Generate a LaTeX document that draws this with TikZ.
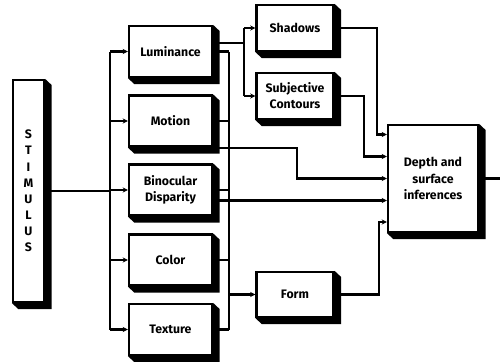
\documentclass[tikz,border=0pt]{standalone}
\usepackage{fontspec}
\setmainfont{Fira Sans}
\usetikzlibrary{arrows.meta}

\tikzset{
  blk/.style={draw, fill=white, line width=1.1mm, inner sep=0pt, align=center,
    font=\fontsize{17.5}{23}\selectfont\bfseries},
  conn/.style={line width=1.1mm},
  arr/.style={conn, -{Stealth[length=2.6mm,width=2.6mm]}},
}

\begin{document}
\begin{tikzpicture}[x=0.5mm, y=-0.5mm]
    \useasboundingbox (0,0) rectangle (500,361);

    % Stimulus column
    \node[blk, minimum width=15.5mm, minimum height=111mm] (stim) at (28.5,191) {S\\T\\I\\M\\U\\L\\U\\S};

    % First stage boxes
    \node[blk, minimum width=41.5mm, minimum height=25.5mm] (lum) at (170.5,51.5) {Luminance};
    \node[blk, minimum width=41.5mm, minimum height=25.5mm] (mot) at (170.5,121) {Motion};
    \node[blk, minimum width=41.5mm, minimum height=25.5mm] (bin) at (170.5,190) {Binocular\\Disparity};
    \node[blk, minimum width=41.5mm, minimum height=25.5mm] (col) at (170.5,260) {Color};
    \node[blk, minimum width=41.5mm, minimum height=25.5mm] (tex) at (170.5,329.5) {Texture};

    % Second stage boxes
    \node[blk, minimum width=38.5mm, minimum height=23mm] (sha) at (295,28) {Shadows};
    \node[blk, minimum width=38.5mm, minimum height=23mm] (sub) at (295,96) {Subjective\\Contours};
    \node[blk, minimum width=38.5mm, minimum height=22.5mm] (frm) at (295,294.5) {Form};

    % Result box
    \node[blk, minimum width=45mm, minimum height=53.5mm, font=\fontsize{17.5}{24}\selectfont\bfseries] (dep) at (433,178.5) {Depth and\\surface\\inferences};

    % Raised shadows of the boxes
    \foreach \n in {stim,lum,mot,bin,col,tex,sha,sub,frm,dep}
        \fill (\n.north east) -- ++(3.2mm,-3mm) -- ([shift={(3.2mm,-3mm)}]\n.south east)
              -- ([shift={(3.2mm,-3mm)}]\n.south west) -- (\n.south west) -- (\n.south east) -- cycle;

    % Stimulus to first stage
    \coordinate (lbus) at (110,191);
    \draw[conn] (stim.east) -- (lbus);
    \draw[conn] (lbus |- lum) -- (lbus |- tex);
    \foreach \n in {lum,mot,bin,col,tex}
        \draw[arr] (lbus |- \n) -- (\n.west);

    % Collecting bus on the right
    \coordinate (rbus) at (229,191);
    \draw[conn] (rbus |- lum) -- (rbus |- tex);
    \foreach \n in {lum,mot,bin,col,tex}
        \draw[conn] (\n.east) -- (rbus |- \n);
    \draw[arr] (rbus |- frm) -- (frm.west);

    % Luminance to shadows and contours
    \coordinate (lsplit) at (244,43);
    \draw[conn] (lum.east |- lsplit) -- (lsplit);
    \draw[conn] (lsplit |- sha) -- (lsplit |- sub);
    \draw[arr] (lsplit |- sha) -- (sha.west);
    \draw[arr] (lsplit |- sub) -- (sub.west);

    % Inputs of the result box
    \coordinate (inA) at ([yshift=22mm]dep.west);
    \coordinate (inB) at ([yshift=11mm]dep.west);
    \coordinate (inC) at (dep.west);
    \coordinate (inD) at ([yshift=-11mm]dep.west);
    \coordinate (inE) at ([yshift=-21.75mm]dep.west);
    \draw[arr] (sha.east) -| ([xshift=-5mm]inA) -- (inA);
    \draw[arr] (sub.east) -| ([xshift=-11.5mm]inB) -- (inB);
    \draw[arr] (mot.south east) -| ([xshift=-45mm]inC) -- (inC);
    \draw[arr] (bin.east |- inD) -- (inD);
    \draw[arr] (frm.east) -| ([xshift=-4mm]inE) -- (inE);

    % Output
    \coordinate (out) at (500,178.5);
    \draw[conn] (dep.east) -- (out);
\end{tikzpicture}
\end{document}
